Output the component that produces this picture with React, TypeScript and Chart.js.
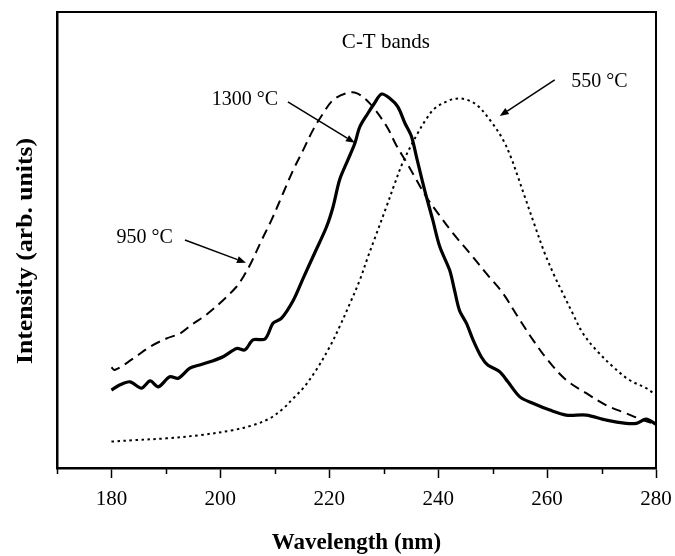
import { useEffect, useRef } from "react";
import { Chart, registerables } from "chart.js";

Chart.register(...registerables);

// ---- Data (wavelength in nm, intensity in arbitrary units 0-100) ----
const wl1300 = [180.0, 181.5, 183.4, 185.5, 187.1, 188.6, 190.7, 192.3, 194.4, 196.2, 198.1, 200.5, 203.0, 204.5, 206.0, 208.2, 209.7, 211.2, 213.4, 215.2, 217.3, 219.5, 220.7, 221.9, 223.4, 224.7, 225.6, 227.1, 228.3, 229.6, 231.1, 232.6, 233.9, 235.1, 236.0, 237.5, 239.0, 240.3, 242.1, 243.0, 243.9, 245.2, 246.4, 247.9, 249.1, 251.3, 252.8, 255.0, 257.4, 260.5, 263.5, 267.2, 270.9, 274.5, 276.4, 278.2, 280.0];
const int1300 = [17.1, 18.2, 18.9, 17.5, 19.1, 17.8, 20.0, 19.7, 21.9, 22.6, 23.3, 24.4, 26.2, 25.9, 28.1, 28.3, 31.8, 32.8, 36.8, 41.6, 47.1, 52.9, 57.3, 63.2, 67.5, 71.2, 74.8, 77.8, 80.0, 82.0, 81.1, 79.2, 75.6, 72.7, 68.3, 61.0, 54.4, 48.5, 43.4, 39.0, 34.6, 31.7, 28.1, 24.4, 22.6, 21.1, 18.9, 15.6, 14.2, 12.7, 11.6, 11.6, 10.5, 9.8, 9.8, 10.7, 9.6];

const wl950 = [180.0, 180.6, 184.0, 187.1, 190.1, 192.6, 194.7, 197.4, 200.5, 203.0, 204.2, 205.6, 207.6, 209.4, 211.5, 213.4, 215.2, 217.0, 218.9, 220.7, 223.2, 225.0, 227.4, 230.5, 232.3, 234.2, 236.0, 237.8, 240.0, 242.7, 245.8, 249.1, 251.9, 254.6, 257.4, 260.1, 263.5, 267.2, 270.8, 274.5, 277.6, 280.0];
const int950 = [22.1, 21.5, 24.0, 26.6, 28.4, 29.5, 31.4, 33.6, 36.8, 39.8, 41.9, 44.9, 50.0, 54.4, 60.2, 65.4, 69.7, 74.1, 77.8, 80.7, 82.2, 82.2, 80.0, 75.0, 70.8, 67.0, 63.2, 59.5, 55.8, 51.5, 47.1, 42.3, 38.3, 33.2, 28.1, 23.7, 19.3, 16.4, 13.8, 12.0, 10.5, 9.6];

const wl550 = [180.0, 184.0, 190.1, 196.2, 202.3, 206.0, 209.1, 211.5, 213.4, 215.2, 217.6, 220.1, 221.9, 223.8, 225.6, 227.1, 228.3, 230.5, 232.0, 233.5, 236.0, 237.8, 239.4, 241.8, 243.3, 245.2, 247.3, 249.7, 251.9, 253.4, 254.6, 255.9, 257.7, 259.5, 261.4, 262.9, 264.7, 266.6, 269.0, 272.1, 275.1, 278.2, 280.0];
const int550 = [5.8, 6.1, 6.5, 7.2, 8.3, 9.4, 10.9, 13.0, 15.3, 17.5, 21.5, 26.6, 31.0, 36.1, 41.2, 46.3, 50.2, 57.3, 62.3, 67.0, 72.9, 76.5, 78.9, 80.5, 81.0, 80.8, 79.4, 76.0, 72.0, 68.0, 64.0, 59.5, 53.3, 47.3, 42.0, 38.3, 33.9, 29.5, 25.9, 22.2, 19.3, 17.5, 16.0];

const xMajorTicks = [180, 200, 220, 240, 260, 280];
const xMinorTicks = [170, 190, 210, 230, 250, 270];

const xTitle = "Wavelength (nm)";
const yTitle = "Intensity (arb. units)";

// Annotation texts (positions in data coordinates)
const noteTexts = ["C-T bands", "1300 °C", "550 °C", "950 °C"];
const noteX = [230.4, 204.5, 269.6, 186.1];
const noteY = [93.4, 80.7, 84.6, 50.4];
// Arrows (from -> to, data coordinates)
const arrowFromX = [212.4, 261.4, 193.5];
const arrowFromY = [80.3, 85.1, 50.0];
const arrowToX = [224.7, 251.3, 204.7];
const arrowToY = [71.3, 77.2, 45.0];

const SERIF = "'Liberation Serif', 'Times New Roman', serif";

const toPoints = (xs: number[], ys: number[]) => xs.map((x, i) => ({ x, y: ys[i] }));

const decorPlugin = {
  id: "decor",
  afterDraw(chart: any) {
    const { ctx, chartArea, scales } = chart;
    const xs = scales.x;
    const ys = scales.y;
    ctx.save();
    // frame top & right
    ctx.strokeStyle = "#000";
    ctx.lineWidth = 2;
    ctx.beginPath();
    ctx.moveTo(chartArea.left, chartArea.top);
    ctx.lineTo(chartArea.right, chartArea.top);
    ctx.lineTo(chartArea.right, chartArea.bottom);
    ctx.stroke();
    // minor ticks
    ctx.lineWidth = 1.5;
    ctx.beginPath();
    for (const v of xMinorTicks) {
      const px = Math.round(xs.getPixelForValue(v)) + 0.5;
      ctx.moveTo(px, chartArea.bottom);
      ctx.lineTo(px, chartArea.bottom + 6);
    }
    ctx.stroke();
    // y-axis title
    ctx.save();
    ctx.fillStyle = "#000";
    ctx.translate(26, (chartArea.top + chartArea.bottom) / 2 + 11);
    ctx.rotate(-Math.PI / 2);
    ctx.scale(1.07, 1);
    ctx.font = `bold 24px ${SERIF}`;
    ctx.textAlign = "center";
    ctx.textBaseline = "middle";
    ctx.fillText(yTitle, 0, 0);
    ctx.restore();
    // annotation texts
    ctx.fillStyle = "#000";
    ctx.textAlign = "center";
    ctx.textBaseline = "middle";
    noteTexts.forEach((t, i) => {
      ctx.font = `${i === 0 ? 21 : 20}px ${SERIF}`;
      ctx.fillText(t, xs.getPixelForValue(noteX[i]), ys.getPixelForValue(noteY[i]));
    });
    // arrows
    ctx.lineWidth = 1.5;
    arrowFromX.forEach((_, i) => {
      const x1 = xs.getPixelForValue(arrowFromX[i]);
      const y1 = ys.getPixelForValue(arrowFromY[i]);
      const x2 = xs.getPixelForValue(arrowToX[i]);
      const y2 = ys.getPixelForValue(arrowToY[i]);
      const ang = Math.atan2(y2 - y1, x2 - x1);
      const hl = 9;
      const hw = 3.5;
      const bx = x2 - hl * Math.cos(ang);
      const by = y2 - hl * Math.sin(ang);
      ctx.beginPath();
      ctx.moveTo(x1, y1);
      ctx.lineTo(bx, by);
      ctx.stroke();
      ctx.beginPath();
      ctx.moveTo(x2, y2);
      ctx.lineTo(bx + hw * Math.sin(ang), by - hw * Math.cos(ang));
      ctx.lineTo(bx - hw * Math.sin(ang), by + hw * Math.cos(ang));
      ctx.closePath();
      ctx.fill();
    });
    ctx.restore();
  },
};

export default function App() {
  const ref = useRef<HTMLCanvasElement | null>(null);

  useEffect(() => {
    document.body.style.margin = "0";
    const canvas = ref.current;
    if (!canvas) return;
    const chart = new Chart(canvas, {
      type: "line",
      data: {
        datasets: [
          {
            label: "550 °C",
            data: toPoints(wl550, int550),
            borderColor: "#000",
            borderWidth: 2,
            borderDash: [2.5, 3.5],
            pointRadius: 0,
            tension: 0.35,
            fill: false,
          },
          {
            label: "950 °C",
            data: toPoints(wl950, int950),
            borderColor: "#000",
            borderWidth: 2,
            borderDash: [10, 6],
            pointRadius: 0,
            tension: 0.35,
            fill: false,
          },
          {
            label: "1300 °C",
            data: toPoints(wl1300, int1300),
            borderColor: "#000",
            borderWidth: 3.2,
            pointRadius: 0,
            tension: 0.3,
            fill: false,
          },
        ],
      },
      options: {
        responsive: false,
        animation: false,
        devicePixelRatio: 1,
        layout: { padding: { left: 0, right: 19, top: 12, bottom: 0 } },
        plugins: {
          legend: { display: false },
          tooltip: { enabled: false },
        },
        scales: {
          x: {
            type: "linear",
            min: 170,
            max: 280,
            afterBuildTicks: (s: any) => {
              s.ticks = xMajorTicks.map((v) => ({ value: v }));
            },
            afterFit: (s: any) => {
              s.height = 88;
              s.paddingLeft = 0;
              s.paddingRight = 0;
            },
            ticks: {
              autoSkip: false,
              maxRotation: 0,
              color: "#000",
              padding: 9,
              font: { family: SERIF, size: 21 },
            },
            grid: {
              display: true,
              drawOnChartArea: false,
              drawTicks: true,
              tickLength: 10,
              tickWidth: 1.5,
              tickColor: "#000",
            },
            border: { display: true, color: "#000", width: 2.5 },
            title: {
              display: true,
              text: xTitle,
              color: "#000",
              font: { family: SERIF, size: 23, weight: "bold", lineHeight: 1.0 },
              padding: { top: 0, bottom: 1 },
            },
          },
          y: {
            type: "linear",
            min: 0,
            max: 100,
            afterFit: (s: any) => {
              s.width = 57;
            },
            ticks: { display: false },
            grid: { display: false },
            border: { display: true, color: "#000", width: 2.5 },
            title: { display: false },
          },
        },
      },
      plugins: [decorPlugin],
    } as any);
    return () => chart.destroy();
  }, []);

  return (
    <div style={{ width: 675, height: 556 }}>
      <canvas ref={ref} width={675} height={556} style={{ display: "block" }} />
    </div>
  );
}
